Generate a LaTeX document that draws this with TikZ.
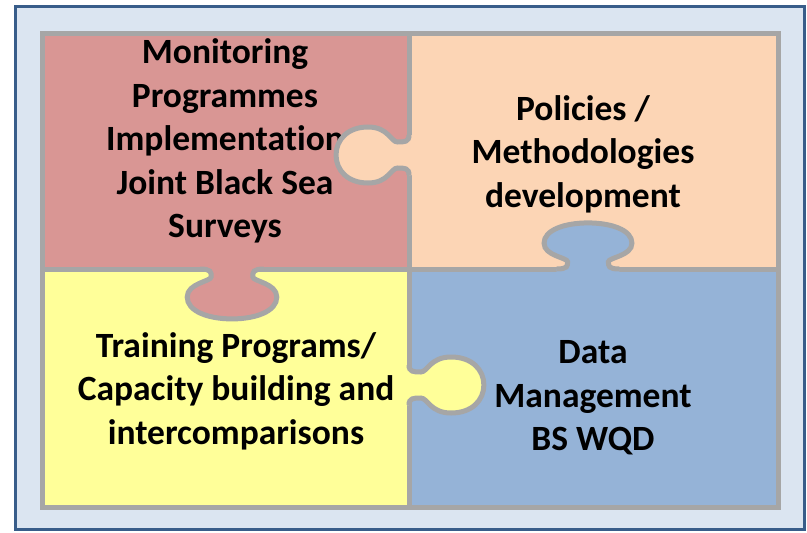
\documentclass[tikz,border=0pt]{standalone}
\usepackage{fontspec}
\setmainfont[Ligatures=NoCommon]{Carlito}
\definecolor{frameblue}{HTML}{385D8A}
\definecolor{framefill}{HTML}{DBE5F1}
\definecolor{seamgray}{HTML}{A6A6A6}
\definecolor{piecered}{HTML}{D99694}
\definecolor{piecetan}{HTML}{FCD5B5}
\definecolor{pieceyellow}{HTML}{FFFF99}
\definecolor{pieceblue}{HTML}{95B3D7}
\tikzset{
    seam/.style={draw=seamgray, line width=5pt},
    piecetext/.style={align=center, inner sep=0pt,
        font=\fontsize{35.5}{43.5}\selectfont\bfseries},
}
% knob: #1 scope options, #2 fill colour
\newcommand{\knob}[2]{%
    \begin{scope}[#1]
        \fill[#2] (-5,-20) -- (0,-20)
        .. controls (0,-13) and (4,-13) .. (10,-13)
        .. controls (16,-13) and (18,-28) .. (36,-28)
        .. controls (54,-28) and (64,-15) .. (64,0)
        .. controls (64,15) and (54,28) .. (36,28)
        .. controls (18,28) and (16,13) .. (10,13)
        .. controls (4,13) and (0,13) .. (0,20)
        -- (-5,20) -- cycle;
        \draw[seam] (0,-20)
        .. controls (0,-13) and (4,-13) .. (10,-13)
        .. controls (16,-13) and (18,-28) .. (36,-28)
        .. controls (54,-28) and (64,-15) .. (64,0)
        .. controls (64,15) and (54,28) .. (36,28)
        .. controls (18,28) and (16,13) .. (10,13)
        .. controls (4,13) and (0,13) .. (0,20);
    \end{scope}}

\begin{document}
\begin{tikzpicture}[x=1pt,y=-1pt]
        \useasboundingbox (0,0) rectangle (807,533);
        % Rahmen
        \draw[fill=framefill, draw=frameblue, line width=3pt] (15.5,6) rectangle (804,529);
        % Teile
        \fill[piecered] (42,33) rectangle (409,269);
        \fill[piecetan] (409,33) rectangle (778,269);
        \fill[pieceyellow] (42,269) rectangle (409,507);
        \fill[pieceblue] (409,269) rectangle (778,507);
        % Texte
        \node[piecetext] (monitoring) at (225,141) {Monitoring\\Programmes\\Implementation\\Joint Black Sea\\Surveys};
        \node[piecetext] (policies) at (583,154) {Policies /\\Methodologies\\development};
        \node[piecetext] (training) at (236,391) {Training Programs/\\Capacity building and\\intercomparisons};
        \node[piecetext] (datamgmt) at (593,398) {Data\\Management\\BS WQD};
        % Fugen
        \draw[seam]
        (42,33) rectangle (778,507)
        (409,33) -- (409,507)
        (42,269) -- (778,269)
        ;
        % Nasen
        \knob{shift={(409,155)}, rotate=180, xscale=1.14}{piecetan}
        \knob{shift={(588,269)}, rotate=90, xscale=.72, yscale=1.57}{pieceblue}
        \knob{shift={(232,269)}, rotate=-90, xscale=.78, yscale=1.6}{piecered}
        \knob{shift={(409,385)}, xscale=1.17}{pieceyellow}
    \end{tikzpicture}
\end{document}
